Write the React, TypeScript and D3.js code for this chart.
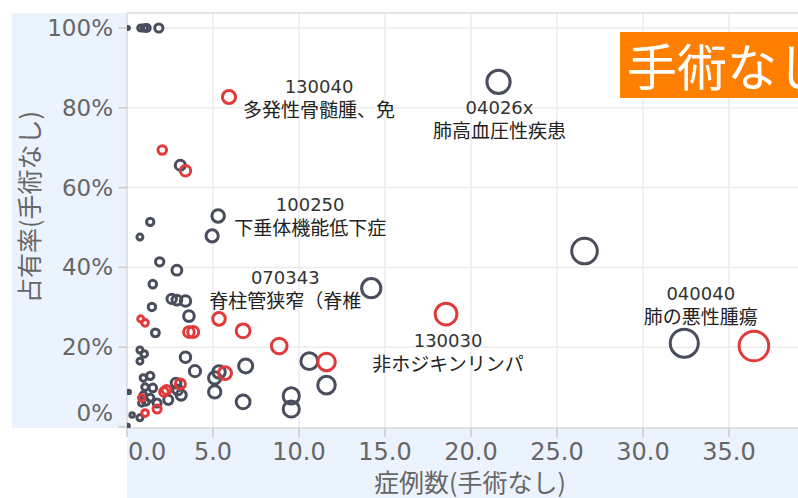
import React from "react";
import * as d3 from "d3";

const xTicks = [0, 5, 10, 15, 20, 25, 30, 35];
const yTicks = [0, 20, 40, 60, 80, 100];

const grayX = [0.05, 0.8, 1.0, 1.15, 1.85, 21.6, 3.1, 5.3, 4.95, 1.35, 0.75, 1.9, 2.9, 1.5, 2.6, 2.9, 3.4, 1.45, 3.6, 1.65, 14.2, 26.6, 32.4, 10.6, 11.6, 9.55, 9.55, 3.4, 3.95, 5.35, 5.1, 6.9, 5.1, 6.75, 0.75, 1.0, 0.75, 1.35, 0.95, 0.1, 1.05, 1.5, 2.85, 2.95, 3.15, 0.95, 1.35, 0.85, 1.75, 2.4, 1.1, 0.3, 0.75, 0.05];
const grayY = [100, 100, 100, 100, 100, 86.5, 65.6, 52.9, 47.9, 51.4, 47.6, 41.4, 39.3, 35.8, 32.1, 31.8, 31.6, 30.1, 27.8, 23.6, 34.8, 44.1, 21.0, 16.5, 10.5, 7.8, 4.5, 17.5, 14.0, 13.8, 12.3, 15.3, 8.8, 6.3, 19.3, 18.3, 16.5, 12.8, 12.3, 8.8, 10.0, 9.8, 11.0, 9.3, 8.0, 8.0, 7.3, 6.0, 6.0, 6.8, 6.3, 3.0, 2.3, 0.3];

const redX = [5.93, 2.05, 3.4, 0.8, 1.05, 3.6, 3.85, 5.35, 6.75, 18.55, 8.85, 11.6, 36.45, 5.7, 2.15, 2.3, 3.1, 1.05, 1.75, 0.85];
const redY = [82.7, 69.4, 64.2, 27.1, 26.1, 23.8, 23.8, 27.1, 24.1, 28.3, 20.3, 16.3, 20.3, 13.5, 8.8, 9.3, 10.8, 3.5, 4.5, 7.3];

const annotCodes = ["130040", "04026x", "100250", "070343", "130030", "040040"];
const annotNames = ["多発性骨髄腫、免", "肺高血圧性疾患", "下垂体機能低下症", "脊柱管狭窄（脊椎", "非ホジキンリンパ", "肺の悪性腫瘍"];
const annotX = [5.93, 21.6, 5.3, 14.2, 18.55, 32.4];
const annotY = [82.7, 86.5, 52.9, 34.8, 28.3, 21.0];

// layout offsets (px) of label block centre from anchor point
const annotOffsets: [number, number][] = [
  [90, 0],
  [1, 37],
  [92, 0],
  [-86, 0],
  [2, 37.5],
  [16.5, -38.5],
];

const W = 798;
const H = 498;
const L = 127;
const T = 13;
const B = 428;
const FONT = "'DejaVu Sans', 'Noto Sans CJK JP', sans-serif";
const CJK = "'Noto Sans CJK JP', 'DejaVu Sans', sans-serif";
const GRAY = "#4a4d5c";
const RED = "#e03a3a";

export default function App() {
  const x = d3.scaleLinear().domain([0, 40]).range([L, 815]);
  const y = d3.scaleLinear().domain([0, 100]).range([427, 28]);
  const r = d3.scaleSqrt().domain([0, 36.4]).range([1, 14.8]);

  const gray = grayX.map((v, i) => ({ x: v, y: grayY[i] }));
  const red = redX.map((v, i) => ({ x: v, y: redY[i] }));

  return (
    <svg
      width={W}
      height={H}
      style={{ position: "absolute", left: 0, top: 0, background: "#fff" }}
    >
      <defs>
        <clipPath id="plotClip">
          <rect x={L} y={T} width={W - L} height={B - T} />
        </clipPath>
      </defs>
      {/* axis bands */}
      <rect x={12} y={T} width={L - 12} height={B - T} fill="#ebf3fe" />
      <rect x={L} y={B} width={W - L} height={H - B} fill="#ebf3fe" />

      {/* grid */}
      {yTicks.filter((t) => t > 0).map((t) => (
        <line key={"gy" + t} x1={L} x2={W} y1={y(t)} y2={y(t)} stroke="#ececec" strokeWidth={1.5} />
      ))}
      {xTicks.filter((t) => t > 0).map((t) => (
        <line key={"gx" + t} x1={x(t)} x2={x(t)} y1={T} y2={B} stroke="#ececec" strokeWidth={1.5} />
      ))}
      {/* borders */}
      <line x1={L} x2={W} y1={T} y2={T} stroke="#dddddd" strokeWidth={1.5} />
      <line x1={L} x2={L} y1={T} y2={B} stroke="#d8d8d8" strokeWidth={1.5} />
      <line x1={L} x2={W} y1={B} y2={B} stroke="#d8d8d8" strokeWidth={1.5} />

      {/* y ticks */}
      {yTicks.map((t) => (
        <g key={"yt" + t}>
          <line x1={118} x2={L} y1={y(t)} y2={y(t)} stroke="#cccccc" strokeWidth={1.5} />
          <text
            x={113}
            y={t === 0 ? y(t) - 14 : y(t)}
            textAnchor="end"
            dominantBaseline="central"
            fontFamily={FONT}
            fontSize={23}
            fill="#666"
          >
            {t + "%"}
          </text>
        </g>
      ))}
      {/* x ticks */}
      {xTicks.map((t) => (
        <g key={"xt" + t}>
          <line x1={x(t)} x2={x(t)} y1={B} y2={437} stroke="#cccccc" strokeWidth={1.5} />
          <text
            x={t === 0 ? x(t) + 1 : x(t)}
            y={460}
            textAnchor={t === 0 ? "start" : "middle"}
            fontFamily={FONT}
            fontSize={24}
            fill="#666"
          >
            {d3.format(".1f")(t)}
          </text>
        </g>
      ))}

      {/* axis titles */}
      <text
        x={470}
        y={492}
        textAnchor="middle"
        fontFamily={CJK}
        fontSize={25}
        fill="#666"
      >
        症例数(手術なし)
      </text>
      <text
        transform={`translate(39,207) rotate(-90)`}
        textAnchor="middle"
        fontFamily={CJK}
        fontSize={25}
        fill="#666"
      >
        占有率(手術なし)
      </text>

      {/* points */}
      <g clipPath="url(#plotClip)">
        {gray.map((d, i) => (
          <circle key={"g" + i} cx={x(d.x)} cy={y(d.y)} r={r(d.x)} fill="none" stroke={GRAY} strokeWidth={3} />
        ))}
        {red.map((d, i) => (
          <circle key={"r" + i} cx={x(d.x)} cy={y(d.y)} r={r(d.x)} fill="none" stroke={RED} strokeWidth={3} />
        ))}
      </g>

      {/* annotations */}
      {annotCodes.map((code, i) => {
        const cx = x(annotX[i]) + annotOffsets[i][0];
        const cy = y(annotY[i]) + annotOffsets[i][1];
        return (
          <g key={"a" + i}>
            <text x={cx} y={cy - 11} textAnchor="middle" dominantBaseline="central" fontFamily={FONT} fontSize={18} fill="#333">
              {code}
            </text>
            <text x={cx} y={cy + 11} textAnchor="middle" dominantBaseline="central" fontFamily={CJK} fontSize={19} fill="#222">
              {annotNames[i]}
            </text>
          </g>
        );
      })}

      {/* badge */}
      <rect x={620} y={32} width={200} height={66} fill="#ff8000" />
      <text x={627} y={64} dominantBaseline="central" fontFamily={CJK} fontSize={50} fill="#fff">
        手術なし
      </text>
    </svg>
  );
}
